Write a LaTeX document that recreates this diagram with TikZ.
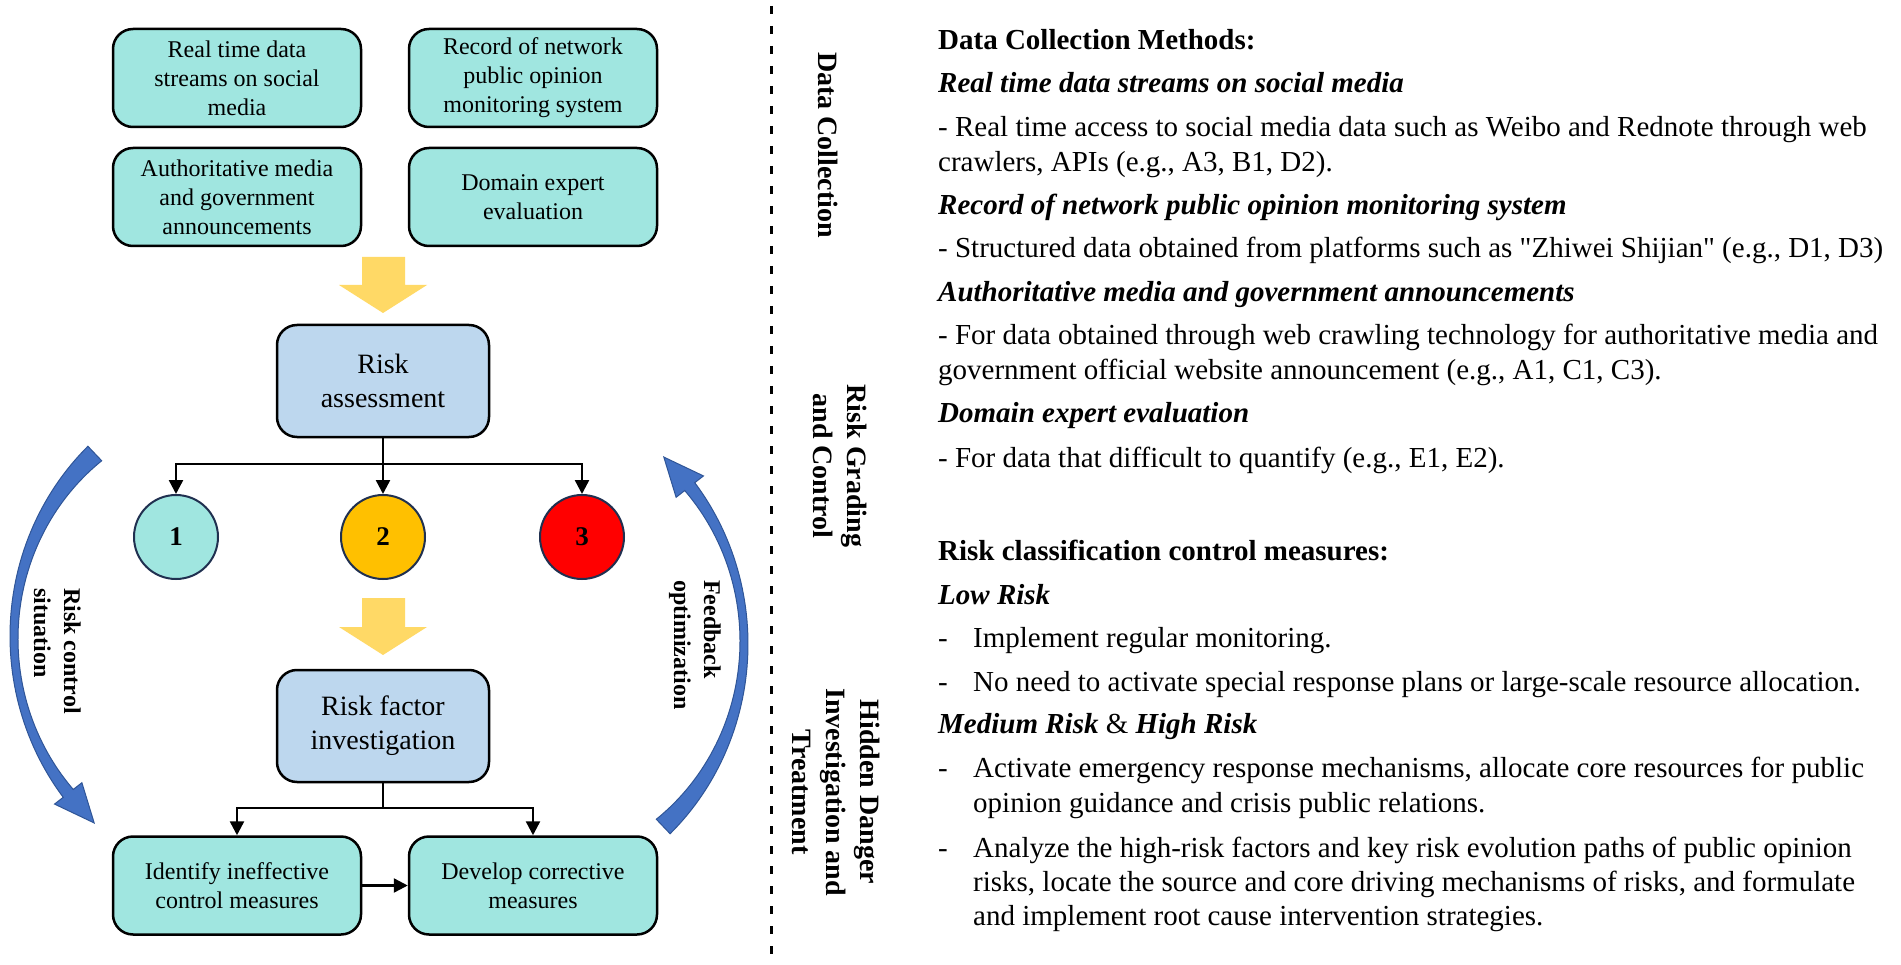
\documentclass[tikz,border=0pt]{standalone}
\usepackage{fontspec}
\setmainfont{Liberation Serif}
\usetikzlibrary{arrows.meta}
\definecolor{teal1}{HTML}{A0E6E0}
\definecolor{blue1}{HTML}{BDD7EE}
\definecolor{orng}{HTML}{FFC000}
\definecolor{redc}{HTML}{FF0000}
\definecolor{yarrow}{HTML}{FFD966}
\definecolor{barrow}{HTML}{4472C4}
\definecolor{barrowd}{HTML}{2F5597}
\definecolor{circd}{HTML}{203050}
\begin{document}
\begin{tikzpicture}[x=1pt,y=-1pt,
 box/.style={draw=black,line width=2.5pt,rounded corners=20pt,fill=teal1,align=center,inner sep=0pt,font=\fontsize{24}{29}\selectfont,minimum width=248pt,minimum height=98pt},
 bbox/.style={box,fill=blue1,minimum width=212pt,minimum height=112pt,font=\fontsize{28}{34}\selectfont},
 lvl/.style={circle,draw=circd,line width=2pt,minimum size=84pt,inner sep=0pt,font=\bfseries\fontsize{27}{27}\selectfont},
 conn/.style={line width=2.5pt,-{Triangle[width=14pt,length=14pt]}},
 plainline/.style={line width=2.5pt},
 side/.style={rotate=-90,font=\bfseries\fontsize{28}{34}\selectfont,align=center,inner sep=0pt},
 arclab/.style={rotate=-90,font=\bfseries\fontsize{24}{30}\selectfont,align=left,anchor=north west,inner sep=0pt},
 headtxt/.style={anchor=base west,inner sep=0pt,font=\bfseries\fontsize{29}{35}\selectfont},
 subtxt/.style={anchor=base west,inner sep=0pt,font=\bfseries\itshape\fontsize{29}{35}\selectfont},
 bodytxt/.style={anchor=base west,inner sep=0pt,font=\fontsize{29}{35}\selectfont},
 blockarrow/.style={fill=barrow,draw=barrowd,line width=1pt},
]
\useasboundingbox (0,0) rectangle (1901,965);
\fill[white] (0,0) rectangle (1901,965);

% data sources
\node[box] (b1) at (237,78) {Real time data\\streams on social\\media};
\node[box] (b2) at (533,78) {Record of network\\public opinion\\monitoring system};
\node[box] (b3) at (237,197) {Authoritative media\\and government\\announcements};
\node[box] (b4) at (533,197) {Domain expert\\evaluation};

% yellow arrows
\fill[yarrow] (362,257) -- (405,257) -- (405,285) -- (427,285) -- (383,313) -- (339,285) -- (362,285) -- cycle;
\fill[yarrow] (362,598) -- (405,598) -- (405,627) -- (427,627) -- (383,655) -- (339,627) -- (362,627) -- cycle;

% risk assessment
\node[bbox] (ra) at (383,381) {Risk\\assessment};
\node[lvl,fill=teal1] (c1) at (176,537) {1};
\node[lvl,fill=orng] (c2) at (383,537) {2};
\node[lvl,fill=redc] (c3) at (582,537) {3};
\coordinate (j1) at (383,464);
\draw[plainline] (ra.south) -- (j1);
\draw[conn] (j1) -| (c1.north);
\draw[conn] (j1) -| (c3.north);
\draw[conn] (j1) -- (c2.north);

% investigation
\node[bbox] (rf) at (383,726) {Risk factor\\investigation};
\coordinate (j2) at (383,808);
\node[box] (id) at (237,885.5) {Identify ineffective\\control measures};
\node[box] (dv) at (533,885.5) {Develop corrective\\measures};
\draw[plainline] (rf.south) -- (j2);
\draw[conn] (j2) -| (id.north);
\draw[conn] (j2) -| (dv.north);
\draw[conn] (id.east) -- (dv.west);

% curved blue arrows (elliptic bands, thick at the ends, thin in the middle)
\path[blockarrow] plot[domain=133.6:218,samples=60] ({261+251*cos(\x)},{636-262*sin(\x)})
  -- ({261+262*cos(218)},{636-273*sin(218)})
  -- ({261+244.6*cos(227)},{636-255.6*sin(227)})
  -- ({261+227.3*cos(218)},{636-238.3*sin(218)})
  -- plot[domain=218:133.6,samples=60] ({261+(211.6-31.4*cos(\x)-3.1*sin(\x))*cos(\x)},{636-(222.6-31.4*cos(\x)-3.1*sin(\x))*sin(\x)})
  -- cycle;
\path[blockarrow] plot[domain=-46.4:38,samples=60] ({497+251*cos(\x)},{644-262*sin(\x)})
  -- ({497+262*cos(38)},{644-273*sin(38)})
  -- ({497+244.6*cos(47)},{644-255.6*sin(47)})
  -- ({497+227.3*cos(38)},{644-238.3*sin(38)})
  -- plot[domain=38:-46.4,samples=60] ({497+(211.6+31.4*cos(\x)+3.1*sin(\x))*cos(\x)},{644-(222.6+31.4*cos(\x)+3.1*sin(\x))*sin(\x)})
  -- cycle;
\node[arclab] (l1) at (81,588) {Risk control\\situation};
\node[arclab] (l2) at (721,580) {Feedback\\optimization};

% divider
\draw[line width=3pt,dash pattern=on 8pt off 12pt] (771,6) -- (771,962);

% stage labels
\node[side] (s1) at (828,145) {Data Collection};
\node[side] (s2) at (840,466) {Risk Grading\\and Control};
\node[side] (s3) at (836,792) {Hidden Danger\\Investigation and\\Treatment};

% right column
\node[headtxt] (h1) at (938,50) {Data Collection Methods:};
\node[subtxt] (s11) at (938,93) {Real time data streams on social media};
\node[bodytxt] (p11) at (938,137) {- Real time access to social media data such as Weibo and Rednote through web};
\node[bodytxt] (p12) at (938,172) {crawlers, APIs (e.g., A3, B1, D2).};
\node[subtxt] (s12) at (938,215) {Record of network public opinion monitoring system};
\node[bodytxt] (p13) at (938,258) {- Structured data obtained from platforms such as \textquotedbl Zhiwei Shijian\textquotedbl{} (e.g., D1, D3)};
\node[subtxt] (s13) at (938,302) {Authoritative media and government announcements};
\node[bodytxt] (p14) at (938,345) {- For data obtained through web crawling technology for authoritative media and};
\node[bodytxt] (p15) at (938,380) {government official website announcement (e.g., A1, C1, C3).};
\node[subtxt] (s14) at (938,423) {Domain expert evaluation};
\node[bodytxt] (p16) at (938,467) {- For data that difficult to quantify (e.g., E1, E2).};

\node[headtxt] (h2) at (938,560) {Risk classification control measures:};
\node[subtxt] (s21) at (938,604) {Low Risk};
\node[bodytxt] (d1) at (938,647) {-};
\node[bodytxt] (p21) at (973,647) {Implement regular monitoring.};
\node[bodytxt] (d2) at (938,691) {-};
\node[bodytxt] (p22) at (973,691) {No need to activate special response plans or large-scale resource allocation.};
\node[subtxt] (s22) at (938,733) {Medium Risk {\upshape\mdseries\&} High Risk};
\node[bodytxt] (d3) at (938,777) {-};
\node[bodytxt] (p23) at (973,777) {Activate emergency response mechanisms, allocate core resources for public};
\node[bodytxt] (p24) at (973,812) {opinion guidance and crisis public relations.};
\node[bodytxt] (d4) at (938,857) {-};
\node[bodytxt] (p25) at (973,857) {Analyze the high-risk factors and key risk evolution paths of public opinion};
\node[bodytxt] (p26) at (973,891) {risks, locate the source and core driving mechanisms of risks, and formulate};
\node[bodytxt] (p27) at (973,925) {and implement root cause intervention strategies.};
\end{tikzpicture}
\end{document}
